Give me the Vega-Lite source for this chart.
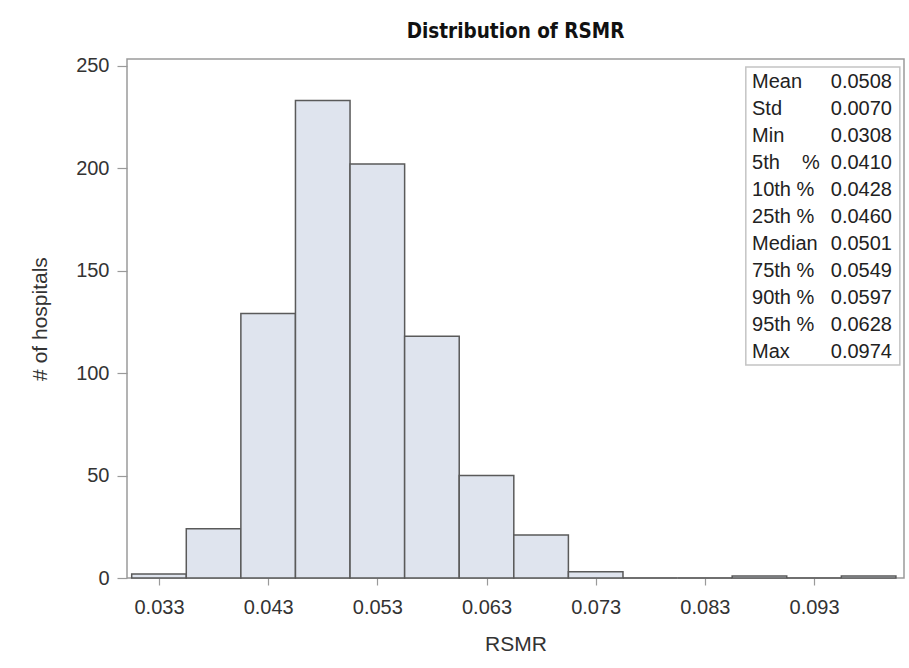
{
  "$schema": "https://vega.github.io/schema/vega-lite/v6.json",
  "width": 777,
  "height": 519,
  "autosize": "none",
  "padding": {"left": 127, "top": 59, "right": 5, "bottom": 90},
  "background": "white",
  "title": {
    "text": "Distribution of RSMR",
    "font": "DejaVu Sans Condensed",
    "fontSize": 20.5,
    "fontWeight": "bold",
    "color": "#111111",
    "anchor": "middle",
    "offset": 13
  },
  "config": {
    "view": {"stroke": "#9a9a9a", "strokeWidth": 1.5},
    "axis": {
      "grid": false,
      "domain": false,
      "labelFont": "Liberation Sans",
      "labelFontSize": 20,
      "labelColor": "#333333",
      "titleFont": "Liberation Sans",
      "titleFontSize": 21,
      "titleFontWeight": "normal",
      "titleColor": "#333333",
      "tickColor": "#9a9a9a",
      "tickWidth": 1.2
    }
  },
  "datasets": {
    "bins": [
      {"bin_start": 0.0305, "bin_end": 0.0355, "count": 2},
      {"bin_start": 0.0355, "bin_end": 0.0405, "count": 24},
      {"bin_start": 0.0405, "bin_end": 0.0455, "count": 129},
      {"bin_start": 0.0455, "bin_end": 0.0505, "count": 233},
      {"bin_start": 0.0505, "bin_end": 0.0555, "count": 202},
      {"bin_start": 0.0555, "bin_end": 0.0605, "count": 118},
      {"bin_start": 0.0605, "bin_end": 0.0655, "count": 50},
      {"bin_start": 0.0655, "bin_end": 0.0705, "count": 21},
      {"bin_start": 0.0705, "bin_end": 0.0755, "count": 3},
      {"bin_start": 0.0755, "bin_end": 0.0805, "count": 0},
      {"bin_start": 0.0805, "bin_end": 0.0855, "count": 0},
      {"bin_start": 0.0855, "bin_end": 0.0905, "count": 1},
      {"bin_start": 0.0905, "bin_end": 0.0955, "count": 0},
      {"bin_start": 0.0955, "bin_end": 0.1005, "count": 1}
    ],
    "stats": [
      {"stat": "Mean", "value": "0.0508"},
      {"stat": "Std", "value": "0.0070"},
      {"stat": "Min", "value": "0.0308"},
      {"stat": "5th\u00a0\u00a0\u00a0\u00a0%", "value": "0.0410"},
      {"stat": "10th %", "value": "0.0428"},
      {"stat": "25th %", "value": "0.0460"},
      {"stat": "Median", "value": "0.0501"},
      {"stat": "75th %", "value": "0.0549"},
      {"stat": "90th %", "value": "0.0597"},
      {"stat": "95th %", "value": "0.0628"},
      {"stat": "Max", "value": "0.0974"}
    ]
  },
  "layer": [
    {
      "layer": [
        {
          "data": {"name": "bins"},
          "mark": {"type": "rect", "fill": "#DFE4EE", "stroke": "#5a5a5a", "strokeWidth": 1.5},
          "encoding": {
            "x": {
              "field": "bin_start",
              "type": "quantitative",
              "scale": {"domain": [0.03007, 0.10124], "nice": false, "zero": false},
              "axis": {
                "title": "RSMR",
                "values": [0.033, 0.043, 0.053, 0.063, 0.073, 0.083, 0.093],
                "format": ".3f",
                "tickSize": 7,
                "labelPadding": 12,
                "titlePadding": 16
              }
            },
            "x2": {"field": "bin_end"},
            "y": {
              "field": "count",
              "type": "quantitative",
              "scale": {"domain": [0, 253.2], "nice": false},
              "axis": {
                "title": "# of hospitals",
                "values": [0, 50, 100, 150, 200, 250],
                "tickSize": 10,
                "labelPadding": 8,
                "titlePadding": 25
              }
            },
            "y2": {"datum": 0}
          }
        },
        {
          "data": {"values": [{}]},
          "mark": {"type": "rect", "fill": "white", "stroke": "#c4c4c4", "strokeWidth": 1.5},
          "encoding": {
            "x": {"datum": 0.08675},
            "x2": {"datum": 0.10086},
            "y": {"datum": 249.3},
            "y2": {"datum": 103.9}
          }
        }
      ]
    },
    {
      "data": {"name": "stats"},
      "encoding": {
        "y": {
          "field": "stat",
          "type": "nominal",
          "sort": null,
          "scale": {"type": "point", "range": [23, 293], "padding": 0},
          "axis": null
        }
      },
      "layer": [
        {
          "mark": {"type": "text", "align": "left", "baseline": "middle", "font": "Liberation Sans", "fontSize": 20, "color": "#222222"},
          "encoding": {
            "x": {"datum": 0.08732},
            "text": {"field": "stat"}
          }
        },
        {
          "mark": {"type": "text", "align": "right", "baseline": "middle", "font": "Liberation Sans", "fontSize": 20, "color": "#222222"},
          "encoding": {
            "x": {"datum": 0.10014},
            "text": {"field": "value"}
          }
        }
      ]
    }
  ],
  "resolve": {"scale": {"y": "independent"}}
}
